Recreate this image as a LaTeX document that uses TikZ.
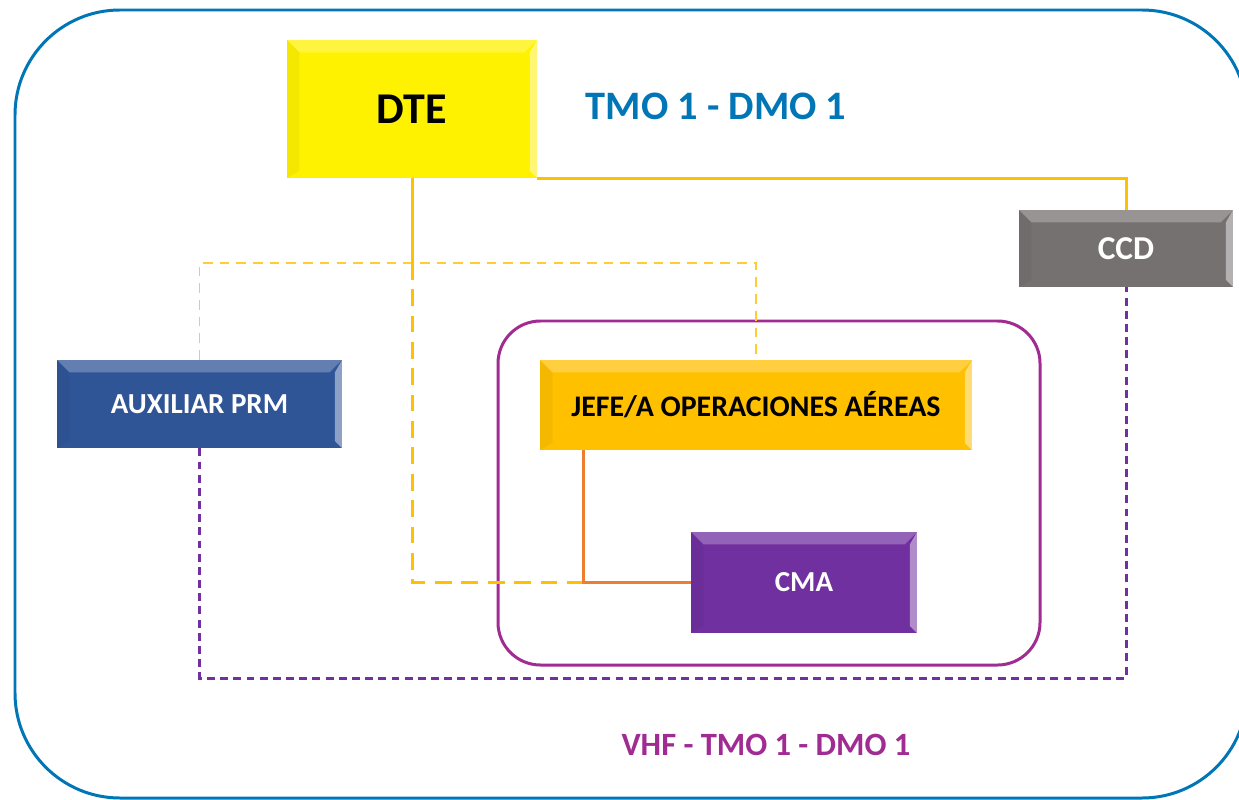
\documentclass[tikz,border=0pt]{standalone}
\usepackage{fontspec}
\setmainfont{Carlito}
\usepackage{tikz}
\usetikzlibrary{arrows.meta,calc,positioning}

\definecolor{frameblue}{RGB}{0,118,182}
\definecolor{vhfpurple}{RGB}{160,43,147}
\definecolor{lineorange}{RGB}{255,192,0}
\definecolor{darkorange}{RGB}{237,125,49}
\definecolor{cmapurple}{RGB}{112,48,160}
\definecolor{prmblue}{RGB}{47,85,151}
\definecolor{ccdgray}{RGB}{118,113,113}

\begin{document}
\begin{tikzpicture}[x=0.02cm,y=-0.02cm,
  box/.style={rectangle,inner sep=0pt,font=\bfseries\fontsize{16.5}{20}\selectfont,
    path picture={
      \fill[white,opacity=.25] (path picture bounding box.north west) -- (path picture bounding box.north east)
        -- ([xshift=-7pt,yshift=-7pt]path picture bounding box.north east)
        -- ([xshift=7pt,yshift=-7pt]path picture bounding box.north west) -- cycle;
      \fill[white,opacity=.45] (path picture bounding box.north east) -- (path picture bounding box.south east)
        -- ([xshift=-4pt,yshift=4pt]path picture bounding box.south east)
        -- ([xshift=-4pt,yshift=-7pt]path picture bounding box.north east) -- cycle;
      \fill[black,opacity=.04] (path picture bounding box.north west) -- (path picture bounding box.south west)
        -- ([xshift=7pt,yshift=4pt]path picture bounding box.south west)
        -- ([xshift=7pt,yshift=-7pt]path picture bounding box.north west) -- cycle;}},
  link/.style={lineorange,line width=1.7pt},
  dashlink/.style={lineorange,line width=1.7pt,dash pattern=on 9.5pt off 5.5pt},
  thinlink/.style={lineorange!80,line width=1.1pt,dash pattern=on 5.5pt off 4pt},
  vhflink/.style={cmapurple,line width=1.7pt,dash pattern=on 4.5pt off 3pt}]
\useasboundingbox (0,0) rectangle (1239,800);
\fill[white] (0,0) rectangle (1239,800);

% Outer frame
\draw[frameblue,line width=1.7pt,rounded corners=2.1cm] (15,10) rectangle (1247,798);
\node[frameblue,font=\bfseries\fontsize{23}{27}\selectfont] (tmo) at (716,106) {TMO 1 - DMO 1};

% VHF group
\draw[vhfpurple,line width=1.7pt,rounded corners=0.85cm] (498,321) rectangle (1040,665);
\node[vhfpurple,font=\bfseries\fontsize{18.5}{22}\selectfont] (vhf) at (766,745) {VHF - TMO 1 - DMO 1};

% Boxes
\node[box,fill=yellow,text=black,minimum width=5cm,minimum height=2.76cm,
  font=\bfseries\fontsize{25}{30}\selectfont] (dte) at (412,109) {DTE};
\node[box,fill=ccdgray,text=white,minimum width=4.28cm,minimum height=1.54cm,
  font=\bfseries\fontsize{19}{22}\selectfont] (ccd) at (1126,248.5) {CCD};
\node[box,fill=prmblue,text=white,minimum width=5.7cm,minimum height=1.76cm] (prm) at (199.5,404) {AUXILIAR PRM};
\node[box,fill=lineorange,text=black,minimum width=8.64cm,minimum height=1.8cm,
  font=\bfseries\fontsize{17}{20}\selectfont] (jefe) at (756,405) {JEFE/A OPERACIONES AÉREAS};
\node[box,fill=cmapurple,text=white,minimum width=4.52cm,minimum height=2.02cm] (cma) at (804,582.5) {CMA};

% Connectors
\coordinate (bus) at (412,263);
\coordinate (vhfbus) at (660,678);
\draw[link] (dte.south east) -| (ccd.north);
\draw[thinlink] (prm.north) |- (bus) -| (jefe.north);
\draw[link] (dte.south) -- (bus);
\draw[dashlink] (bus) |- (cma.west);
\draw[darkorange,line width=1.4pt] ([xshift=0.88cm]jefe.south west) |- (cma.west);
\draw[vhflink] (prm.south) |- (vhfbus) -| (ccd.south);
\end{tikzpicture}
\end{document}
